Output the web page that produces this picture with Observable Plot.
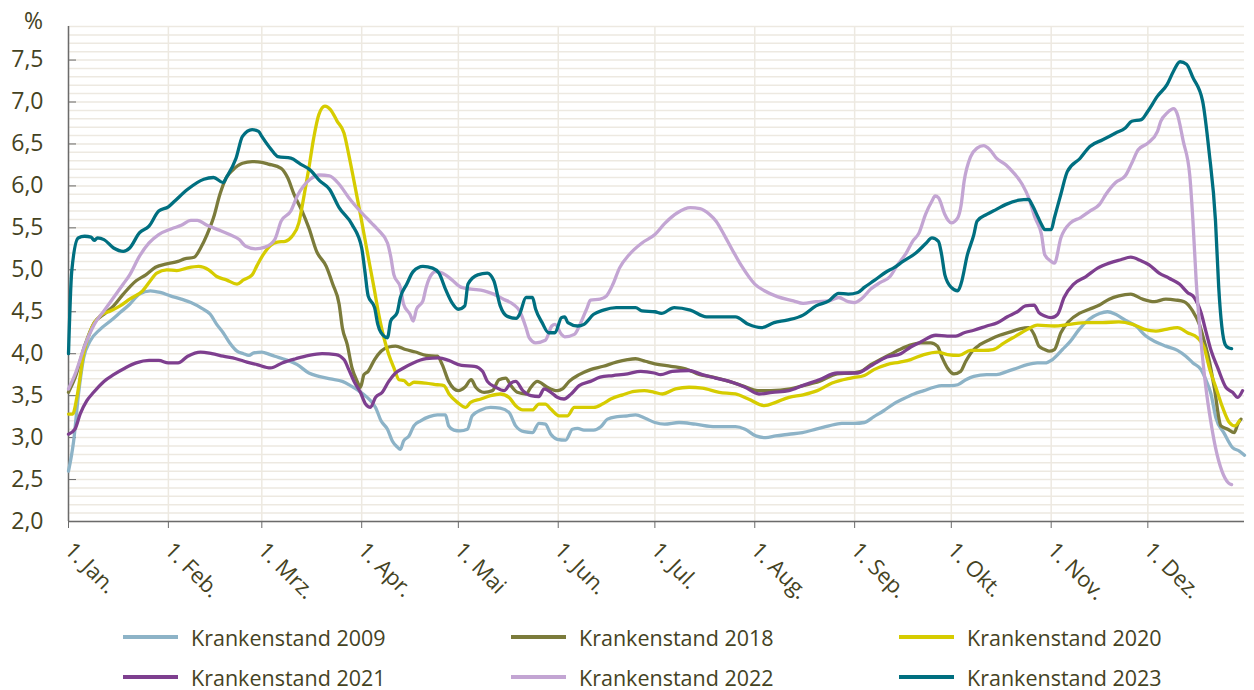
<!DOCTYPE html>
<html><head><meta charset="utf-8">
<script src="https://cdn.jsdelivr.net/npm/d3@7"></script>
<script src="https://cdn.jsdelivr.net/npm/@observablehq/plot@0.6"></script>
<style>
body{margin:0;background:#fff;font-family:"Open Sans",sans-serif;}
#chart svg{display:block}
.legend{display:grid;grid-template-columns:repeat(3,388px);grid-auto-rows:40px;padding-left:123px;margin-top:7px}
.item{display:flex;align-items:center;font-size:21.5px;color:#45431f;white-space:nowrap}
.sw{width:55px;height:4px;margin-right:13px}
</style></head><body>
<div id="chart"></div>
<div class="legend" id="legend"></div>
<script>
const seriesNames = ["Krankenstand 2009","Krankenstand 2018","Krankenstand 2020","Krankenstand 2021","Krankenstand 2022","Krankenstand 2023"];
const seriesColors = ["#8db3c7","#7b7b3b","#d6cc00","#7e3f8f","#c3a5d3","#006f80"];
const monthLabels = ["1. Jan.","1. Feb.","1. Mrz.","1. Apr.","1. Mai","1. Jun.","1. Jul.","1. Aug.","1. Sep.","1. Okt.","1. Nov.","1. Dez."];
const yTicks = [2.0,2.5,3.0,3.5,4.0,4.5,5.0,5.5,6.0,6.5,7.0,7.5];

// day of year (0 = 1. Jan.) and value in %
const days2009 = [0,1.6,3.1,4.7,6.7,9.8,13,16,19,22,25.4,28.5,31.6,35,38,41.4,44,46,48,50,52.3,54.3,56,57.5,60,61,64,67.3,71,74.6,77.7,81.3,85,87.5,90,92.7,95.3,97,99,100.5,102,103,104,105.7,107.2,109.3,112,114.5,117,118,119.6,121.5,123.8,125.3,128,131,134,136.7,138.8,141.4,144,146,148,149.7,151.7,154.3,156.4,158,160,163,165.2,167.3,170.4,173.5,176,179,182,185,189.5,194.6,200.8,207,210,213.3,216.4,219.5,223.6,227.8,232,236,240,244,247,250,253,256,259,262.4,265.5,268.6,271,274,276,278.5,281,285,288,291.4,294.5,297.6,300.7,303,305.4,308.5,311,313.7,316.8,320,322.5,325,328,331.3,334.4,337.5,340.6,344.2,346.8,349,351.5,353,354.6,356.1,358.7,361.3,363.4,365];
const vals2009 = [2.60,2.96,3.52,3.95,4.15,4.29,4.39,4.49,4.59,4.71,4.75,4.73,4.69,4.65,4.61,4.54,4.47,4.35,4.25,4.13,4.03,4.00,3.98,4.01,4.02,4.01,3.97,3.93,3.87,3.77,3.73,3.70,3.67,3.62,3.56,3.48,3.36,3.20,3.10,2.96,2.89,2.86,2.96,3.02,3.14,3.20,3.25,3.27,3.27,3.14,3.09,3.08,3.10,3.26,3.33,3.36,3.35,3.30,3.14,3.07,3.06,3.17,3.16,3.04,2.98,2.97,3.10,3.11,3.09,3.09,3.13,3.22,3.25,3.26,3.27,3.23,3.18,3.16,3.18,3.16,3.13,3.13,3.10,3.02,3.00,3.02,3.04,3.06,3.10,3.14,3.17,3.17,3.18,3.25,3.32,3.40,3.46,3.52,3.56,3.60,3.62,3.62,3.63,3.69,3.73,3.75,3.75,3.79,3.83,3.87,3.89,3.89,3.93,4.05,4.15,4.29,4.41,4.48,4.50,4.47,4.40,4.33,4.21,4.14,4.09,4.04,3.97,3.89,3.81,3.69,3.52,3.24,3.05,2.88,2.84,2.79];

const days2018 = [0,2,5,8,11,14,17,21,24,27,30.5,34,36,39,41,43,45,47,49,51,54,57,60,62,66,68,70,72.5,74.6,77,80,82,84,85,86.5,88,89.6,90.6,91.7,93,95,97,99.4,101.5,104.6,107.7,111,114.5,116,118,121,123,125,126.4,129,131.6,133.6,135.7,137.3,139.3,142,143.5,145.5,148.6,151.7,153.3,155.4,158.5,162,166,170,173.5,176,179,182,187,191.5,196,200,205,209,214,218,224,228,233,238.6,243,246,249,252,255,258,261,264.5,267.6,269.7,271.2,272.8,274.8,276.9,278.5,280.5,283,286,289,292.4,295.6,298,299.7,301.2,303,304.4,306,308,310.6,313.7,316.8,320,323,326,329.7,333.4,337,340.6,343.7,346.3,348.9,351,352.5,354.1,355.6,357.7,359.8,361.8,362.9,363.9];
const vals2018 = [3.54,3.71,4.09,4.37,4.47,4.57,4.71,4.87,4.94,5.03,5.07,5.10,5.13,5.15,5.26,5.42,5.62,5.90,6.10,6.19,6.27,6.29,6.28,6.26,6.21,6.10,5.90,5.70,5.50,5.22,5.04,4.83,4.59,4.31,4.11,3.83,3.67,3.60,3.75,3.79,3.93,4.03,4.08,4.09,4.05,4.02,3.98,3.97,3.87,3.67,3.56,3.60,3.69,3.60,3.54,3.56,3.69,3.71,3.62,3.54,3.52,3.60,3.67,3.60,3.56,3.58,3.67,3.75,3.81,3.85,3.90,3.93,3.94,3.91,3.88,3.85,3.82,3.75,3.72,3.67,3.62,3.56,3.56,3.58,3.62,3.67,3.76,3.77,3.79,3.87,3.93,3.99,4.05,4.10,4.13,4.13,4.09,3.95,3.83,3.76,3.79,3.91,4.03,4.11,4.17,4.22,4.26,4.30,4.31,4.23,4.09,4.05,4.03,4.05,4.25,4.39,4.48,4.53,4.58,4.65,4.69,4.71,4.65,4.62,4.65,4.64,4.62,4.51,4.35,4.15,3.91,3.60,3.14,3.10,3.06,3.16,3.22];

const days2020 = [0,1.3,2.6,4.7,7.2,9.8,13,16,19,23,25.4,27.4,30.5,33.6,36.7,40.4,43.5,46,49,52.3,54.3,57,58.5,60.1,62.7,64.8,67.3,69.4,71.5,73,74.6,76.1,77.7,79.6,81.3,83.4,85.5,87,88.6,90.6,92.7,94.8,96.3,97.9,99.4,101,102.6,104.1,105.7,107.2,110.8,114.5,116.5,118.1,120.7,123.3,124.8,128,131,134,136.7,138.8,141,144,146,148,149.7,152.3,154.9,157,160,163,165.7,168.3,172,175.6,178.7,181.8,184.3,188.4,192.6,196.7,202,207,211,216,219.5,223.6,228,232.4,237,242.8,247,250,254,258,261.4,265.5,269.7,272.8,276.4,280,284,287,290.4,294,297.6,300.7,306,310.6,316,321,326,330.3,334,337.5,340.6,344.2,347.3,350.4,352.5,354.1,356.1,358.2,360.3,362,363.4];
const vals2020 = [3.28,3.28,3.48,4.00,4.31,4.45,4.51,4.57,4.65,4.75,4.87,4.96,5.00,4.99,5.02,5.04,5.00,4.92,4.88,4.83,4.88,4.94,5.05,5.16,5.29,5.33,5.34,5.40,5.56,5.86,6.21,6.57,6.85,6.95,6.91,6.77,6.63,6.37,6.06,5.66,5.22,4.79,4.47,4.19,3.99,3.83,3.69,3.68,3.63,3.66,3.65,3.63,3.62,3.52,3.42,3.36,3.42,3.46,3.50,3.52,3.48,3.38,3.33,3.33,3.40,3.40,3.34,3.26,3.26,3.36,3.36,3.36,3.40,3.46,3.51,3.55,3.56,3.54,3.52,3.58,3.60,3.59,3.54,3.52,3.46,3.38,3.42,3.48,3.51,3.56,3.65,3.71,3.74,3.81,3.87,3.90,3.93,3.99,4.02,3.99,3.98,4.04,4.04,4.05,4.13,4.21,4.29,4.34,4.33,4.35,4.37,4.37,4.38,4.35,4.29,4.27,4.29,4.31,4.25,4.19,4.07,3.83,3.60,3.36,3.18,3.14,3.20];

const days2021 = [0,2,3.6,5.7,7.8,11,14,17.6,21,25,28,31,34,37,41,44.5,48,52,55.4,58.5,62.7,66.3,70.5,74.6,78.7,83,85.5,87,88.6,90.6,92.2,93.7,95.3,97.4,99.4,101.5,104,107,111,115,118,122,126,128.5,130,132.6,135.2,137.3,138.8,141,143.5,146,147.6,149.7,151.7,153.8,156,158.5,162,165,169,173.5,177.6,181.8,183.8,187.4,192.6,196.7,200.8,206,210,214.3,218.4,223.6,227.8,233,238.6,244.8,248,251,254,258.3,261.4,264.5,269.2,272.8,275.4,278,281,285,288.3,291.4,294.5,297,299.7,301.2,303,305,307,309,312,315.8,319.4,323,326.6,329.7,332.8,335.4,338.5,341.6,344.8,347.3,349.4,351.5,353,354.6,356.7,359.2,361.3,362.9,364.4];
const vals2021 = [3.04,3.10,3.28,3.44,3.54,3.67,3.75,3.83,3.89,3.92,3.92,3.89,3.89,3.97,4.02,4.00,3.97,3.94,3.90,3.87,3.83,3.89,3.94,3.98,4.00,3.99,3.93,3.81,3.67,3.54,3.40,3.36,3.48,3.54,3.67,3.77,3.83,3.89,3.94,3.95,3.92,3.86,3.85,3.79,3.67,3.60,3.56,3.65,3.67,3.56,3.50,3.49,3.58,3.54,3.48,3.46,3.52,3.62,3.67,3.72,3.74,3.76,3.79,3.77,3.75,3.79,3.80,3.75,3.71,3.66,3.60,3.52,3.54,3.56,3.62,3.69,3.77,3.77,3.83,3.90,3.96,4.00,4.08,4.14,4.22,4.21,4.21,4.25,4.28,4.33,4.37,4.44,4.50,4.57,4.58,4.49,4.45,4.43,4.47,4.67,4.83,4.92,5.02,5.08,5.12,5.15,5.11,5.06,4.96,4.90,4.83,4.73,4.67,4.49,4.27,4.04,3.83,3.60,3.54,3.48,3.56];

const days2022 = [0,2,5,8,11,14,17,19,22,25,28,32,35,38,40,43,47,50,53,55,58,61,64,66,69,71,75,78,81,84,87,91,94,96,99,100,101,103,104,106,107,108,110,111,112,114,117,119,122,125,129,132,135,138,140,142,143,145,148,150,151,153,154,157,159,161,162,165,167,169,171,174,178,182,185,189,193,196,199,201,204,206,209,213,216,220,225,228,232,236,239,242,244,246,249,252,255,257,260,262,264,266,268,269,270,272,273,274,276,277,278,280,282,284,286,288,291,293,296,298,300,302,303,305,306,308,311,314,317,320,322,325,328,330,332,335,338,339,341,343,344,346,348,349,350,351.5,353,354.5,356,358,360,361];
const vals2022 = [3.58,3.75,4.09,4.35,4.51,4.67,4.83,4.94,5.16,5.32,5.42,5.49,5.53,5.59,5.59,5.53,5.47,5.42,5.36,5.28,5.25,5.27,5.36,5.58,5.70,5.88,6.08,6.13,6.12,6.02,5.86,5.68,5.56,5.48,5.32,5.16,4.94,4.79,4.59,4.47,4.39,4.53,4.63,4.79,4.90,4.98,4.94,4.88,4.79,4.77,4.75,4.71,4.65,4.59,4.51,4.31,4.19,4.13,4.16,4.33,4.35,4.23,4.20,4.23,4.37,4.55,4.64,4.65,4.69,4.83,5.02,5.18,5.32,5.42,5.55,5.68,5.74,5.73,5.66,5.58,5.38,5.24,5.04,4.83,4.75,4.68,4.63,4.60,4.62,4.63,4.67,4.62,4.61,4.65,4.77,4.85,4.92,5.04,5.20,5.34,5.44,5.66,5.82,5.88,5.86,5.66,5.59,5.56,5.62,5.76,6.06,6.35,6.45,6.48,6.43,6.33,6.25,6.17,6.02,5.86,5.62,5.42,5.18,5.10,5.08,5.38,5.56,5.62,5.70,5.78,5.90,6.04,6.12,6.27,6.43,6.51,6.65,6.77,6.87,6.92,6.87,6.53,6.13,5.58,4.87,4.15,3.60,3.20,2.88,2.60,2.46,2.44];

const days2023 = [0,1,3,5,7,8,9,11,14,17,19,22,25,28,31,33,37,42,45,48,49,52,54,57,59,60,63,65,69,72,75,78,81,84,88,91,92,93,95,96,97,99,100,102,103,105,107,110,113,115,117,119,121,123,124,127,130,132,134,136,139,140,142,144,145,147,149,151,153,154,155,158,160,163,166,170,176,178,182,184,188,193,198,203,207,211,215,219,223,228,232,236,239,242,245,247,250,254,256,259,263,266,268,270,271,272,274,276,277,279,281,282,285,288,291,295,298,299,301,302,303,305,306,308,310,314,317,321,325,328,330,333,335,338,341,343,345,347,349,352,354,356,357,359,360,361];
const vals2023 = [4.00,4.98,5.38,5.40,5.39,5.35,5.38,5.36,5.26,5.22,5.26,5.44,5.52,5.70,5.75,5.82,5.96,6.08,6.10,6.04,6.10,6.33,6.59,6.67,6.65,6.59,6.43,6.35,6.33,6.26,6.19,6.06,5.96,5.74,5.54,5.26,4.98,4.69,4.55,4.35,4.25,4.19,4.39,4.49,4.67,4.83,4.98,5.04,5.02,4.96,4.77,4.61,4.53,4.57,4.83,4.94,4.96,4.87,4.57,4.45,4.42,4.47,4.67,4.67,4.53,4.37,4.25,4.25,4.43,4.44,4.37,4.33,4.35,4.47,4.52,4.55,4.55,4.51,4.50,4.48,4.55,4.52,4.44,4.44,4.44,4.35,4.31,4.37,4.40,4.46,4.57,4.63,4.72,4.71,4.73,4.79,4.87,4.98,5.02,5.10,5.20,5.31,5.38,5.34,5.18,4.94,4.79,4.75,4.83,5.18,5.42,5.58,5.66,5.72,5.78,5.83,5.84,5.78,5.62,5.54,5.48,5.48,5.62,5.90,6.17,6.33,6.47,6.55,6.63,6.69,6.77,6.79,6.89,7.07,7.21,7.37,7.48,7.45,7.29,7.01,6.41,5.58,4.79,4.11,4.07,4.06];

const base = Date.UTC(2024, 0, 1);
const toDate = d => new Date(base + d * 864e5);
const startDate = toDate(0), endDate = toDate(365);
const monthStarts = d3.range(12).map(m => new Date(Date.UTC(2024, m, 1)));
const gridValues = d3.range(20, 80).map(v => v / 10);

const allDays = [days2009, days2018, days2020, days2021, days2022, days2023];
const allVals = [vals2009, vals2018, vals2020, vals2021, vals2022, vals2023];
const rows = [];
allDays.forEach((ds, i) => ds.forEach((d, j) => rows.push({series: seriesNames[i], date: toDate(d), value: allVals[i][j]})));

const textColor = "#45431f";
const axisColor = "#6b6b6b";
const gridColor = "#ede9e1";

const chart = Plot.plot({
  width: 1254, height: 610,
  marginTop: 26, marginBottom: 89, marginLeft: 68, marginRight: 10,
  style: {fontFamily: "'Open Sans', sans-serif", fontSize: "23px", color: textColor, background: "transparent"},
  x: {type: "utc", domain: [startDate, endDate]},
  y: {domain: [2, 7.9]},
  color: {domain: seriesNames, range: seriesColors},
  marks: [
    Plot.gridY(gridValues, {stroke: gridColor, strokeOpacity: 1, strokeWidth: 1.5}),
    Plot.gridX(monthStarts, {stroke: gridColor, strokeOpacity: 1, strokeWidth: 1.5}),
    Plot.axisY(yTicks, {tickSize: -8, tickPadding: 33, tickFormat: d => d.toFixed(1).replace(".", ","), stroke: axisColor, fill: textColor, label: null, fontSize: 23}),
    Plot.axisX(monthStarts, {tickSize: 7, tickRotate: 45, tickPadding: 18, tickFormat: d => monthLabels[d.getUTCMonth()], stroke: axisColor, fill: textColor, label: null, fontSize: 22}),
    Plot.ruleY([2], {stroke: axisColor, strokeWidth: 1.5}),
    Plot.ruleX([startDate], {stroke: axisColor, strokeWidth: 1.5}),
    Plot.line(rows, {x: "date", y: "value", z: "series", stroke: "series", strokeWidth: 3.3, curve: "monotone-x"}),
    Plot.text(["%"], {text: d => d, frameAnchor: "top-left", dx: -35, dy: 2, lineAnchor: "bottom", textAnchor: "middle", fontSize: 23, fill: textColor})
  ]
});
document.getElementById("chart").appendChild(chart);

const legend = document.getElementById("legend");
seriesNames.forEach((name, i) => {
  const item = document.createElement("div");
  item.className = "item";
  const sw = document.createElement("span");
  sw.className = "sw";
  sw.style.background = seriesColors[i];
  item.appendChild(sw);
  item.appendChild(document.createTextNode(name));
  legend.appendChild(item);
});
</script></body></html>
